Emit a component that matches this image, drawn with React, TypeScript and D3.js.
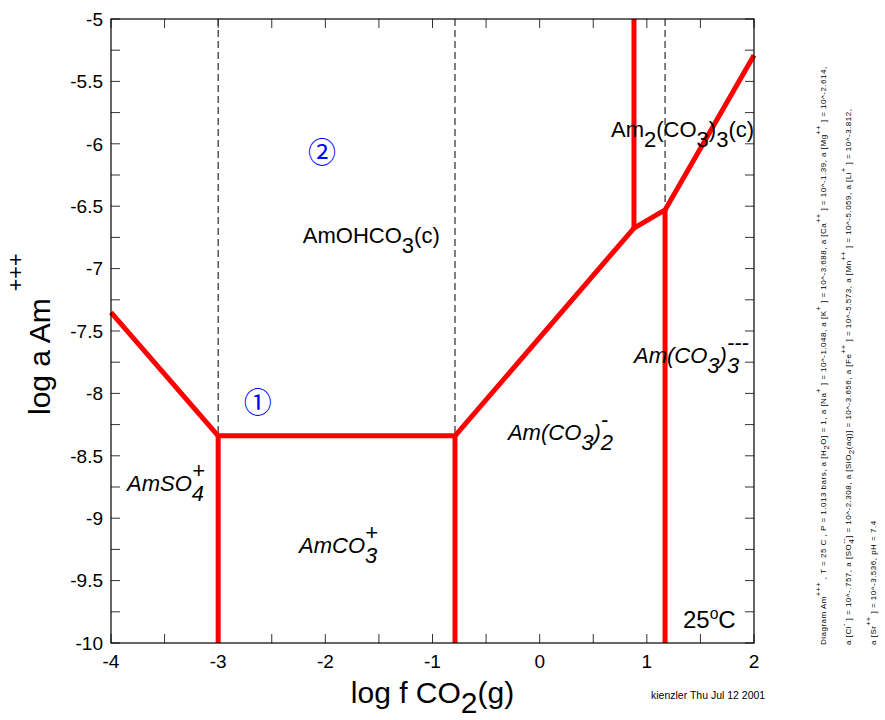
import React from 'react';
import * as d3 from 'd3';

const W = 885;
const H = 720;
const FONT = '"Liberation Sans", Arial, Helvetica, sans-serif';

// axes
const xDomain: [number, number] = [-4, 2];
const yDomain: [number, number] = [-10, -5];
const xTickLabels = [-4, -3, -2, -1, 0, 1, 2];
const yTickLabels = [-10, -9.5, -9, -8.5, -8, -7.5, -7, -6.5, -6, -5.5, -5];
const xMinorTicks = [-4, -3.5, -3, -2.5, -2, -1.5, -1, -0.5, 0, 0.5, 1, 1.5, 2];
const yMinorTicks = [-10, -9.75, -9.5, -9.25, -9, -8.75, -8.5, -8.25, -8, -7.75, -7.5, -7.25, -7, -6.75, -6.5, -6.25, -6, -5.75, -5.5, -5.25, -5];

// field boundaries (red), in data units [log fCO2, log a Am+++]
const mainBoundary: [number, number][] = [[-4, -7.35], [-3, -8.34], [-0.79, -8.34], [0.88, -6.675], [1.17, -6.53], [2, -5.29]];
const boundaryA: [number, number][] = [[-3, -8.34], [-3, -10]];
const boundaryB: [number, number][] = [[-0.79, -8.34], [-0.79, -10]];
const boundaryC: [number, number][] = [[0.88, -6.675], [0.88, -5]];
const boundaryD: [number, number][] = [[1.17, -6.53], [1.17, -10]];
const redLines = [mainBoundary, boundaryA, boundaryB, boundaryC, boundaryD];

// mineral saturation (dashed)
const dashA: [number, number][] = [[-3, -5], [-3, -8.34]];
const dashB: [number, number][] = [[-0.79, -5], [-0.79, -8.34]];
const dashC: [number, number][] = [[1.17, -5], [1.17, -6.53]];
const dashedLines = [dashA, dashB, dashC];

type Seg = { t: string; k: 'n' | 'b' | 'p'; stack?: boolean };

// field labels
const fieldLabels: { x: number; y: number; italic: boolean; segs: Seg[] }[] = [
  { x: -2.21, y: -6.795, italic: false, segs: [{ t: 'AmOHCO', k: 'n' }, { t: '3', k: 'b' }, { t: '(c)', k: 'n' }] },
  { x: 0.666, y: -5.946, italic: false, segs: [{ t: 'Am', k: 'n' }, { t: '2', k: 'b' }, { t: '(CO', k: 'n' }, { t: '3', k: 'b' }, { t: ')', k: 'n' }, { t: '3', k: 'b' }, { t: '(c)', k: 'n' }] },
  { x: 0.88, y: -7.756, italic: true, segs: [{ t: 'Am(CO', k: 'n' }, { t: '3', k: 'b' }, { t: ')', k: 'n' }, { t: '3', k: 'b' }, { t: '---', k: 'p', stack: true }] },
  { x: -0.296, y: -8.373, italic: true, segs: [{ t: 'Am(CO', k: 'n' }, { t: '3', k: 'b' }, { t: ')', k: 'n' }, { t: '2', k: 'b' }, { t: '-', k: 'p', stack: true }] },
  { x: -3.85, y: -8.78, italic: true, segs: [{ t: 'AmSO', k: 'n' }, { t: '4', k: 'b' }, { t: '+', k: 'p', stack: true }] },
  { x: -2.245, y: -9.28, italic: true, segs: [{ t: 'AmCO', k: 'n' }, { t: '3', k: 'b' }, { t: '+', k: 'p', stack: true }] },
];
const tempLabel = { x: 1.337, y: -9.88 };
const circleLabels = [
  { x: -2.63, y: -8.06, t: '\u2460' },
  { x: -2.03, y: -6.06, t: '\u2461' },
];

const infoLine1: Seg[] = [
  { t: 'Diagram Am', k: 'n' }, { t: '+++', k: 'p' }, { t: ' , T  =  25 C , P  =  1.013 bars, a [H', k: 'n' }, { t: '2', k: 'b' },
  { t: 'O]  =  1, a [Na', k: 'n' }, { t: '+', k: 'p' }, { t: ' ]  =  10^-1.048, a [K', k: 'n' }, { t: '+', k: 'p' },
  { t: ' ]  =  10^-3.688, a [Ca', k: 'n' }, { t: '++', k: 'p' }, { t: ' ]  =  10^-1.39, a [Mg', k: 'n' }, { t: '++', k: 'p' },
  { t: ' ]  =  10^-2.614,', k: 'n' },
];
const infoLine2: Seg[] = [
  { t: 'a [Cl', k: 'n' }, { t: '-', k: 'p' }, { t: ' ]  =  10^-.757, a [SO', k: 'n' }, { t: '4', k: 'b' }, { t: '--', k: 'p', stack: true },
  { t: ']  =  10^-2.308, a [SiO', k: 'n' }, { t: '2', k: 'b' }, { t: '(aq)]  =  10^-3.656, a [Fe', k: 'n' }, { t: '++', k: 'p' },
  { t: ' ]  =  10^-5.573, a [Mn', k: 'n' }, { t: '++', k: 'p' }, { t: ' ]  =  10^-5.059, a [Li', k: 'n' }, { t: '+', k: 'p' },
  { t: ' ]  =  10^-3.812,', k: 'n' },
];
const infoLine3: Seg[] = [
  { t: 'a [Sr', k: 'n' }, { t: '++', k: 'p' }, { t: ' ]  =  10^-3.536, pH  =  7.4', k: 'n' },
];

const margin = { left: 111, top: 19, right: 885 - 754, bottom: 720 - 643 };

function renderSegs(segs: Seg[], fs: number, subShift: number, supShift: number, supScale: number, stackW: number, supDx = 0) {
  let cur = 0;
  let lastLen = 0;
  return segs.map((s, i) => {
    const target = s.k === 'b' ? subShift : s.k === 'p' ? -supShift : 0;
    const dy = target - cur;
    cur = target;
    const dx = s.stack ? -lastLen * stackW : s.k === 'p' ? supDx : 0;
    lastLen = s.t.length;
    return (
      <tspan key={i} dy={dy} dx={dx} fontSize={s.k === 'p' ? fs * supScale : fs}>
        {s.t}
      </tspan>
    );
  });
}

export default function App() {
  const x = d3.scaleLinear().domain(xDomain).range([margin.left, W - margin.right]);
  const y = d3.scaleLinear().domain(yDomain).range([H - margin.bottom, margin.top]);
  const line = d3.line<[number, number]>().x(d => x(d[0])).y(d => y(d[1]));
  const x0 = x(xDomain[0]), x1 = x(xDomain[1]);
  const y0 = y(yDomain[0]), y1 = y(yDomain[1]);
  const tickLen = 9;
  const lfs = 22;
  const ifs = 8;
  const ils = 0.5;
  const infoStart = 645;

  return (
    <svg width={W} height={H} style={{ position: 'absolute', left: 0, top: 0, background: '#fff' }} fontFamily={FONT}>
      <rect x={0} y={0} width={W} height={H} fill="#fff" />
      {/* dashed lines */}
      {dashedLines.map((d, i) => (
        <path key={'d' + i} d={line(d) || ''} fill="none" stroke="#000" strokeWidth={1} strokeDasharray="7,4" />
      ))}
      {/* ticks */}
      {xMinorTicks.map((t, i) => (
        <g key={'xt' + i} stroke="#333" strokeWidth={1}>
          <line x1={x(t)} x2={x(t)} y1={y0} y2={y0 - tickLen} />
          <line x1={x(t)} x2={x(t)} y1={y1} y2={y1 + tickLen} />
        </g>
      ))}
      {yMinorTicks.map((t, i) => (
        <g key={'yt' + i} stroke="#333" strokeWidth={1}>
          <line x1={x0} x2={x0 + tickLen} y1={y(t)} y2={y(t)} />
          <line x1={x1} x2={x1 - tickLen} y1={y(t)} y2={y(t)} />
        </g>
      ))}
      {/* red boundaries */}
      {redLines.map((d, i) => (
        <path key={'r' + i} d={line(d) || ''} fill="none" stroke="#ff0000" strokeWidth={5} strokeLinejoin="round" />
      ))}
      {/* frame */}
      <rect x={x0} y={y1} width={x1 - x0} height={y0 - y1} fill="none" stroke="#000" strokeWidth={1.2} />
      {/* tick labels */}
      {xTickLabels.map((t, i) => (
        <text key={'xl' + i} x={x(t)} y={668} textAnchor="middle" fontSize={19} fill="#000">{String(t)}</text>
      ))}
      {yTickLabels.map((t, i) => (
        <text key={'yl' + i} x={103} y={y(t) + 6.8} textAnchor="end" fontSize={19} fill="#000">{String(t)}</text>
      ))}
      {/* axis titles */}
      <text x={(x0 + x1) / 2} y={703} textAnchor="middle" fontSize={30} fill="#000">
        {renderSegs([{ t: 'log f CO', k: 'n' }, { t: '2', k: 'b' }, { t: '(g)', k: 'n' }], 30, 10, 0, 1, 0)}
      </text>
      <text transform={`translate(50,415) rotate(-90)`} fontSize={30} fill="#000">
        {renderSegs([{ t: 'log a Am', k: 'n' }, { t: '+++', k: 'p' }], 30, 0, 27, 0.72, 0, 7)}
      </text>
      {/* field labels */}
      {fieldLabels.map((l, i) => (
        <text key={'fl' + i} x={x(l.x)} y={y(l.y)} fontSize={lfs} fontStyle={l.italic ? 'italic' : 'normal'} fill="#000">
          {renderSegs(l.segs, lfs, 10, 13, 1, 0.556 * lfs)}
        </text>
      ))}
      <text x={x(tempLabel.x)} y={y(tempLabel.y)} fontSize={24} fill="#000">
        {renderSegs([{ t: '25', k: 'n' }, { t: 'o', k: 'p' }, { t: 'C', k: 'n' }], 24, 0, 9, 0.65, 0)}
      </text>
      {circleLabels.map((c, i) => (
        <text key={'c' + i} x={x(c.x)} y={y(c.y)} textAnchor="middle" dominantBaseline="central" fontSize={28} fill="#0000ff" fontFamily='"Noto Sans CJK JP", "DejaVu Sans", sans-serif'>{c.t}</text>
      ))}
      {/* info text */}
      <text transform={`translate(826,${infoStart}) rotate(-90)`} fontSize={ifs} letterSpacing={ils} fill="#000">
        {renderSegs(infoLine1, ifs, 2.5, 5, 0.9, 0)}
      </text>
      <text transform={`translate(851,${infoStart}) rotate(-90)`} fontSize={ifs} letterSpacing={ils} fill="#000">
        {renderSegs(infoLine2, ifs, 2.5, 5, 0.9, 0.556 * ifs + ils)}
      </text>
      <text transform={`translate(876,${infoStart}) rotate(-90)`} fontSize={ifs} letterSpacing={ils} fill="#000">
        {renderSegs(infoLine3, ifs, 2.5, 5, 0.9, 0)}
      </text>
      <text x={651} y={699} fontSize={10.5} fill="#000">kienzler Thu Jul 12 2001</text>
    </svg>
  );
}
